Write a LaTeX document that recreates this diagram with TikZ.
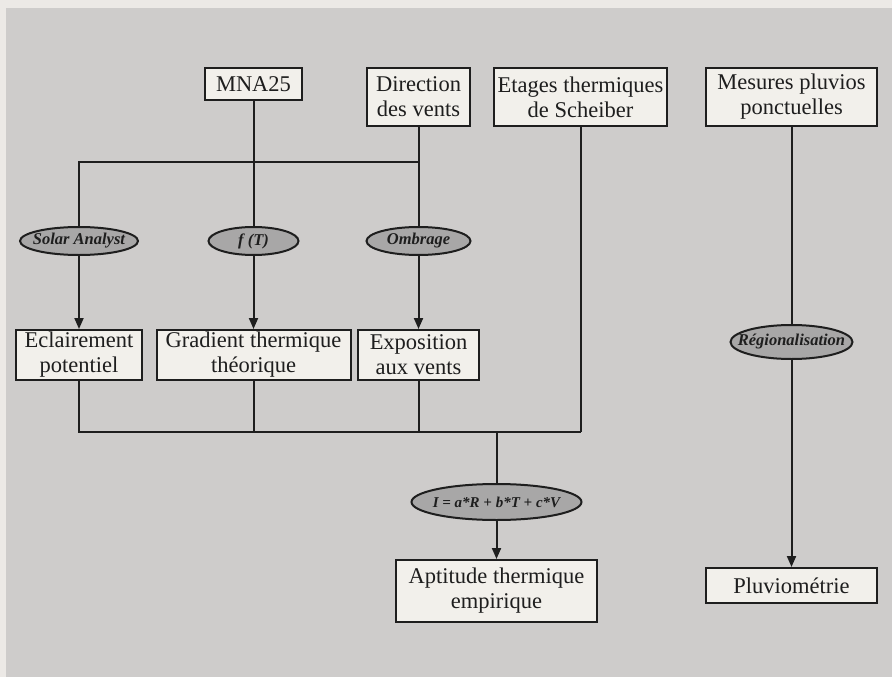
\documentclass[tikz,border=0pt]{standalone}
\usepackage{fontspec}
\setmainfont{Liberation Serif}
\usetikzlibrary{shapes.geometric,arrows.meta}
\definecolor{panel}{RGB}{206,204,203}
\definecolor{page}{RGB}{236,233,230}
\definecolor{boxfill}{RGB}{242,240,235}
\definecolor{ellfill}{RGB}{168,167,167}
\definecolor{ink}{RGB}{30,30,30}
\tikzset{
  box/.style={draw=ink, line width=2pt, fill=boxfill, align=center, inner sep=0pt,
    font=\fontsize{22.5}{25}\selectfont, text=ink},
  oval/.style={ellipse, draw=ink, line width=2pt, fill=ellfill, inner sep=0pt},
  ovaltext/.style={font=\fontsize{16.5}{18}\selectfont\bfseries\itshape, text=ink, inner sep=0pt},
  conn/.style={draw=ink, line width=2pt},
  arr/.style={conn, -{Triangle[length=11pt,width=9pt]}}
}
\begin{document}
\begin{tikzpicture}[x=1pt,y=-1pt]
\useasboundingbox (0,0) rectangle (892,677);
\fill[page] (0,0) rectangle (892,677);
\fill[panel] (6,8) rectangle (892,677);

\node[box, minimum width=97pt, minimum height=32pt] (mna) at (253.5,84) {MNA25};
\node[box, minimum width=103pt, minimum height=58pt] (dir) at (418.5,97) {Direction\\des vents};
\node[box, minimum width=173pt, minimum height=58pt] (eta) at (580.5,97) {Etages thermiques\\de Scheiber};
\node[box, minimum width=171pt, minimum height=58pt] (mes) at (791.5,97) {Mesures pluvios\\ponctuelles};

\node[oval, minimum width=118pt, minimum height=28pt, label={[ovaltext]center:Solar Analyst}] (sol) at (79,241) {};
\node[oval, minimum width=90pt, minimum height=28pt, label={[ovaltext]center:f (T)}] (ft) at (253.5,241) {};
\node[oval, minimum width=104pt, minimum height=28pt, label={[ovaltext]center:Ombrage}] (omb) at (418.5,241) {};
\node[oval, minimum width=122pt, minimum height=34pt, label={[ovaltext]center:Régionalisation}] (reg) at (791.5,342) {};

\node[box, minimum width=126pt, minimum height=50pt] (ecl) at (79,355) {Eclairement\\potentiel};
\node[box, minimum width=194pt, minimum height=50pt] (gra) at (253.5,355) {Gradient thermique\\théorique};
\node[box, minimum width=121pt, minimum height=50pt] (exp) at (418.5,355) {Exposition\\aux vents};

\node[oval, minimum width=170pt, minimum height=36pt, label={[ovaltext, font=\fontsize{15}{17}\selectfont\bfseries\itshape]center:I = a*R + b*T + c*V}] (eq) at (496.5,502) {};
\node[box, minimum width=201pt, minimum height=62pt] (apt) at (496.5,591) {Aptitude thermique\\empirique};
\node[box, minimum width=171pt, minimum height=35pt] (plu) at (791.5,585.5) {Pluviométrie};

\coordinate (j1) at (418.5,162);
\coordinate (j2) at (79,432);
\coordinate (j3) at (580.5,432);
\coordinate (j4) at (496.5,432);

\draw[conn] (mna.south) -- (ft.north);
\draw[conn] (dir.south) -- (omb.north);
\draw[conn] (j1) -| (sol.north);
\draw[arr] (sol.south) -- (ecl.north);
\draw[arr] (ft.south) -- (gra.north);
\draw[arr] (omb.south) -- (exp.north);
\draw[conn] (ecl.south) -- (j2) -- (j3);
\draw[conn] (gra.south) -- (gra.south |- j2);
\draw[conn] (exp.south) -- (exp.south |- j2);
\draw[conn] (eta.south) -- (j3);
\draw[conn] (j4) -- (eq.north);
\draw[arr] (eq.south) -- (apt.north);
\draw[conn] (mes.south) -- (reg.north);
\draw[arr] (reg.south) -- (plu.north);
\end{tikzpicture}
\end{document}
